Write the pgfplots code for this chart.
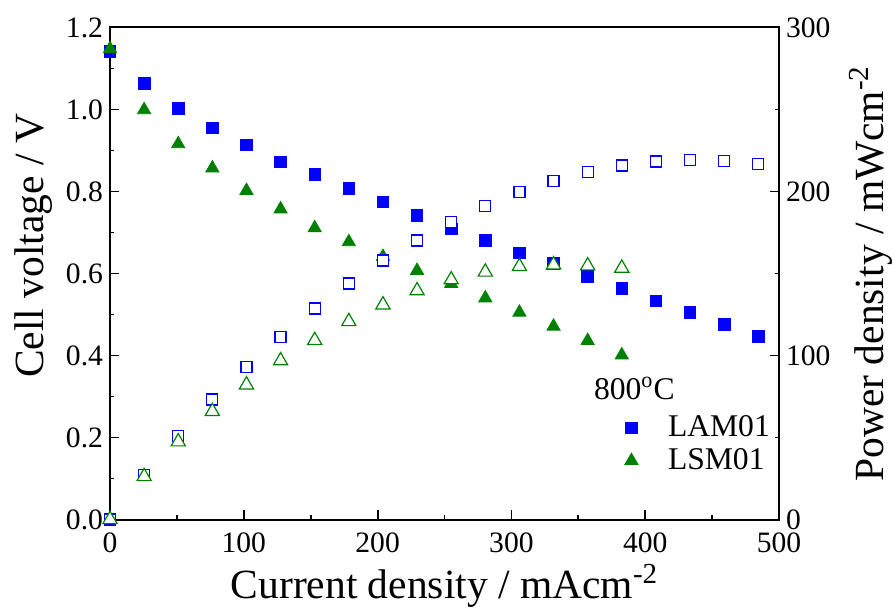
\documentclass[border=0pt]{standalone}
\usepackage{fontspec}
\setmainfont{Liberation Serif}
\usepackage{pgfplots}
\pgfplotsset{compat=1.18}

\definecolor{lamblue}{RGB}{0,0,255}
\definecolor{lsmgreen}{RGB}{0,128,0}

\pgfplotsset{
  common/.style={
    width=334.5bp, height=246bp, scale only axis,
    xmin=0, xmax=500, clip=false,
    tick align=inside,
    major tick length=4.75bp, minor tick length=2.25bp,
    every tick/.style={black, line width=0.9bp},
    axis line style={line width=1bp},
    /pgf/number format/assume math mode=true,
    tick label style={font=\fontsize{14.8bp}{17bp}\selectfont},
    label style={font=\fontsize{20.75bp}{24bp}\selectfont},
  },
  lamV/.style={only marks, mark=square*, mark size=2.9bp, color=lamblue},
  lsmV/.style={only marks, mark=triangle*, mark size=3.8bp, color=lsmgreen},
  lamP/.style={only marks, mark=square*, mark size=2.75bp,
    mark options={draw=lamblue, fill=white, line width=0.6bp}},
  lsmP/.style={only marks, mark=triangle*, mark size=4.1bp,
    mark options={draw=lsmgreen, fill=white, line width=0.6bp}},
}

\begin{document}
\begin{tikzpicture}
\useasboundingbox (-55bp,-46.25bp) rectangle (392.5bp,259.75bp);

% cell voltage (left axis)
\begin{axis}[common,
  ymin=0, ymax=1.2,
  xtick={0,100,200,300,400,500}, minor x tick num=1,
  ytick={0,0.2,0.4,0.6,0.8,1.0,1.2}, minor y tick num=1,
  xtick pos=bottom, ytick pos=left,
  xticklabel style={yshift=-3bp},
  yticklabel style={/pgf/number format/fixed,
    /pgf/number format/fixed zerofill, /pgf/number format/precision=1},
  xlabel={Current density / mAcm\textsuperscript{-2}},
  ylabel={Cell voltage / V},
  xlabel style={at={(axis description cs:0.5,0)}, anchor=base, yshift=-39.25bp},
  ylabel style={at={(axis description cs:-0.1001,0.556)}, anchor=base},
  legend style={draw=none, fill=none, inner sep=0pt,
    at={(axis description cs:0.769,0.153)}, anchor=west,
    font=\fontsize{15.8bp}{18bp}\selectfont, row sep=0.5bp, column sep=13bp},
  legend cell align=left,
]
\addplot[lamV] coordinates {
  (0,1.141) (25.5,1.063) (51,1.002) (76.5,0.955) (102,0.914)
  (127.5,0.872) (153,0.841) (178.5,0.807) (204,0.775) (229.5,0.741)
  (255,0.709) (280.5,0.680) (306,0.650) (331.5,0.624) (357,0.593)
  (382.5,0.563) (408,0.533) (433.5,0.505) (459,0.476) (484.5,0.446)
};
\addlegendentry{LAM01}
\addplot[lsmV] coordinates {
  (0,1.148) (25.5,0.999) (51,0.916) (76.5,0.857) (102,0.802)
  (127.5,0.757) (153,0.711) (178.5,0.677) (204,0.641) (229.5,0.607)
  (255,0.575) (280.5,0.540) (306,0.505) (331.5,0.471) (357,0.436)
  (382.5,0.401)
};
\addlegendentry{LSM01}
\node[anchor=base west, inner sep=0pt, font=\fontsize{15.8bp}{18bp}\selectfont]
  at (axis cs:361.5,0.292) {800\textsuperscript{o}C};
\end{axis}

% power density (right axis)
\begin{axis}[common,
  ymin=0, ymax=300,
  axis y line*=right, axis x line=none,
  ytick={0,100,200,300}, minor y tick num=1,
  ylabel={Power density / mWcm\textsuperscript{-2}},
  ylabel style={at={(axis description cs:1.1555,0.50)}, anchor=base},
]
\addplot[lamP] coordinates {
  (0,0) (25.5,27.3) (51,51.0) (76.5,73.2) (102,93.1)
  (127.5,111.4) (153,128.7) (178.5,143.9) (204,157.9) (229.5,170.1)
  (255,181.4) (280.5,191.3) (306,199.8) (331.5,206.5) (357,212.0)
  (382.5,215.9) (408,218.3) (433.5,219.3) (459,218.5) (484.5,216.7)
};
\addplot[lsmP] coordinates {
  (0,0) (25.5,26.2) (51,47.4) (76.5,65.9) (102,82.1)
  (127.5,96.8) (153,109.2) (178.5,120.7) (204,130.9) (229.5,139.5)
  (255,146.2) (280.5,150.9) (306,154.3) (331.5,155.3) (357,154.7)
  (382.5,153.3)
};
\end{axis}
\end{tikzpicture}
\end{document}
